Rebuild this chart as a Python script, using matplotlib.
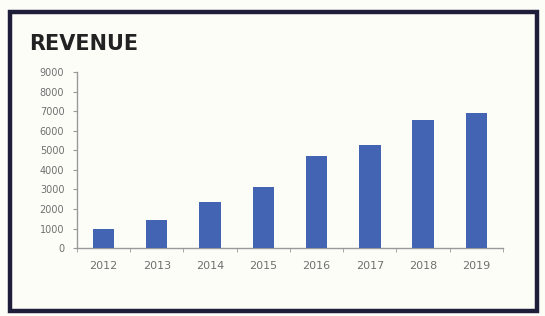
import matplotlib
matplotlib.use("Agg")
import matplotlib.pyplot as plt
from matplotlib.patches import Rectangle

years = ["2012", "2013", "2014", "2015", "2016", "2017", "2018", "2019"]
revenue = [1000, 1450, 2350, 3100, 4700, 5250, 6550, 6900]
y_ticks = [0, 1000, 2000, 3000, 4000, 5000, 6000, 7000, 8000, 9000]

BLUE = "#4363b3"
NAVY = "#1e1e3a"
GREY = "#6f6f6f"
INK = "#222222"

fig = plt.figure(figsize=(5.45, 3.16), dpi=100)
fig.patch.set_facecolor("#fdfdf8")

# dark frame around the chart
fig.patches.append(Rectangle((0.018, 0.015), 0.968, 0.948, transform=fig.transFigure,
                             fill=False, edgecolor=NAVY, linewidth=3.2))

fig.text(0.053, 0.862, "REVENUE", fontsize=15, fontweight="bold", color=INK,
         ha="left", va="center", family="DejaVu Sans")

ax = fig.add_axes([0.141, 0.215, 0.782, 0.557])
ax.set_facecolor("none")
x = range(len(years))
ax.bar(x, revenue, width=0.4, color=BLUE, zorder=3)

ax.set_xlim(-0.5, len(years) - 0.5)
ax.set_ylim(0, 9000)
ax.set_yticks(y_ticks)
ax.set_yticklabels([str(v) for v in y_ticks])
ax.set_xticks(list(x))
ax.set_xticklabels(years)
ax.set_xticks([i + 0.5 for i in range(-1, len(years))], minor=True)

for s in ("top", "right"):
    ax.spines[s].set_visible(False)
for s in ("left", "bottom"):
    ax.spines[s].set_color("#999999")
    ax.spines[s].set_linewidth(1.0)

ax.tick_params(axis="y", labelsize=7, colors="#999999", labelcolor=GREY,
               length=3, pad=6)
ax.tick_params(axis="x", which="major", length=0, labelsize=8,
               labelcolor=GREY, pad=9)
ax.tick_params(axis="x", which="minor", length=3, color="#999999")

fig.savefig("out.png", dpi=100, facecolor=fig.get_facecolor())
